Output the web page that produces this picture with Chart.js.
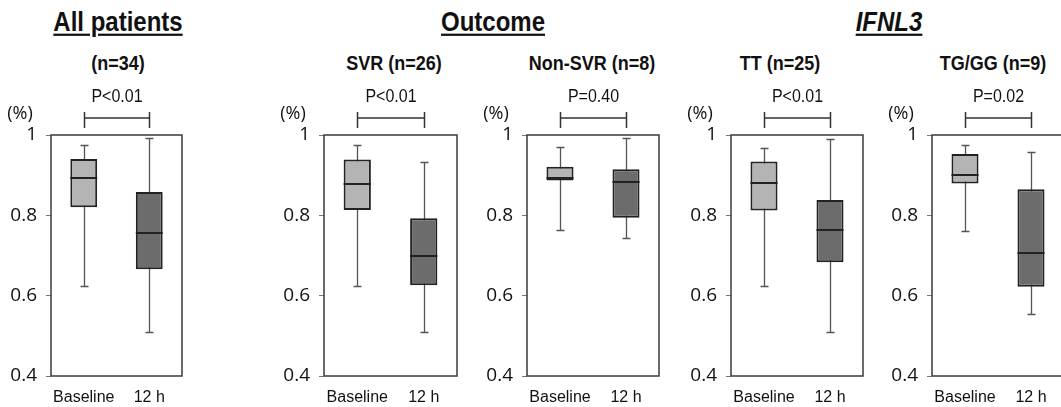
<!DOCTYPE html>
<html>
<head>
<meta charset="utf-8">
<script src="https://cdn.jsdelivr.net/npm/chart.js@4.4.1/dist/chart.umd.min.js"></script>
<style>
    html, body { margin: 0; padding: 0; background: #fff; overflow: hidden; }
    #wrap { position: relative; width: 1061px; height: 407px; overflow: hidden; }
    .pc { position: absolute; top: 0; height: 407px; }
    .txt {
        position: absolute; white-space: nowrap; transform: translateX(-50%) scaleY(1.12);
        transform-origin: 50% 0;
        font-family: "Liberation Sans", Arial, sans-serif;
        font-weight: bold; color: #111; line-height: 1;
    }
    .head { font-size: 24px; text-decoration: underline; text-decoration-thickness: 2px; text-underline-offset: 2px; }
    .sub { font-size: 18px; }
</style>
</head>
<body>
<div id="wrap"></div>
<script>
    const categories = ['Baseline', '12 h'];
    const yTicks = [0.4, 0.6, 0.8, 1];

    const groupTitles = ['All patients', 'Outcome', 'IFNL3'];
    const panelTitles = ['(n=34)', 'SVR (n=26)', 'Non-SVR (n=8)', 'TT (n=25)', 'TG/GG (n=9)'];
    const pValues = ['P<0.01', 'P<0.01', 'P=0.40', 'P<0.01', 'P=0.02'];

    // one [baseline, 12 h] pair per panel
    const whiskerLow = [[0.624, 0.510], [0.624, 0.510], [0.763, 0.744], [0.624, 0.510], [0.762, 0.554]];
    const quart1 = [[0.820, 0.666], [0.813, 0.626], [0.887, 0.794], [0.812, 0.683], [0.879, 0.622]];
    const medians = [[0.892, 0.757], [0.879, 0.699], [0.892, 0.882], [0.880, 0.763], [0.900, 0.705]];
    const quart3 = [[0.940, 0.858], [0.939, 0.793], [0.921, 0.915], [0.934, 0.838], [0.953, 0.865]];
    const whiskerHigh = [[0.975, 0.992], [0.975, 0.934], [0.969, 0.992], [0.968, 0.991], [0.975, 0.958]];

    // layout: plot left/right edges of each panel, title centres
    const plotEdges = [[51, 182], [324, 457], [527, 659], [731, 863], [932, 1064]];
    const groupCentres = [118, 493, 889];
    const subCentres = [118, 394, 592, 780, 993];

    const boxColors = ['#b4b4b4', '#6c6c6c'];
    const sans = '"Liberation Sans", Arial, sans-serif';
    const tickFont = '"Open Sans", "Liberation Sans", sans-serif';

    const wrap = document.getElementById('wrap');

    groupTitles.forEach((t, i) => {
        let d = document.createElement('div');
        d.className = 'txt head';
        d.style.left = groupCentres[i] + 'px';
        d.style.top = '9px';
        d.textContent = t;
        if (i === 2) d.style.fontStyle = 'italic';
        wrap.appendChild(d);
    });

    panelTitles.forEach((t, i) => {
        let d = document.createElement('div');
        d.className = 'txt sub';
        d.style.left = subCentres[i] + 'px';
        d.style.top = '53px';
        d.textContent = t;
        wrap.appendChild(d);
    });

    const boxExtras = {
        id: 'boxExtras',
        beforeDatasetsDraw(chart, args, opts) {
            const {ctx, scales: {x, y}} = chart;
            ctx.save();
            ctx.strokeStyle = '#555';
            ctx.lineWidth = 1.3;
            opts.low.forEach((lo, i) => {
                let px = Math.round(x.getPixelForValue(i)) + 0.5;
                let yLo = Math.round(y.getPixelForValue(lo)) + 0.5;
                let yHi = Math.round(y.getPixelForValue(opts.high[i])) + 0.5;
                ctx.beginPath();
                ctx.moveTo(px, yLo);
                ctx.lineTo(px, yHi);
                ctx.moveTo(px - 4, yLo);
                ctx.lineTo(px + 4, yLo);
                ctx.moveTo(px - 4, yHi);
                ctx.lineTo(px + 4, yHi);
                ctx.stroke();
            });
            ctx.restore();
        },
        afterDatasetsDraw(chart, args, opts) {
            // median line across each box
            const {ctx, scales: {y}} = chart;
            let bars = chart.getDatasetMeta(0).data;
            ctx.save();
            ctx.strokeStyle = '#222';
            ctx.lineWidth = 2;
            opts.median.forEach((m, i) => {
                let b = bars[i];
                let ym = Math.round(y.getPixelForValue(m));
                ctx.beginPath();
                ctx.moveTo(b.x - b.width / 2, ym);
                ctx.lineTo(b.x + b.width / 2, ym);
                ctx.stroke();
            });
            ctx.restore();
        },
        afterDraw(chart, args, opts) {
            const {ctx, chartArea: a, scales: {x}} = chart;
            ctx.save();
            ctx.strokeStyle = '#3a3a3a';
            ctx.lineWidth = 1.5;
            ctx.strokeRect(a.left, a.top, a.right - a.left, a.bottom - a.top);

            // significance bracket
            let x0 = Math.round(x.getPixelForValue(0)) + 0.5;
            let x1 = Math.round(x.getPixelForValue(1)) + 0.5;
            let yb = a.top - 17;
            ctx.strokeStyle = '#333';
            ctx.lineWidth = 1.5;
            ctx.beginPath();
            ctx.moveTo(x0, yb);
            ctx.lineTo(x1, yb);
            ctx.moveTo(x0, a.top - 23);
            ctx.lineTo(x0, a.top - 7);
            ctx.moveTo(x1, a.top - 23);
            ctx.lineTo(x1, a.top - 7);
            ctx.stroke();

            ctx.fillStyle = '#111';
            ctx.textAlign = 'center';
            ctx.textBaseline = 'middle';
            ctx.save();
            ctx.translate((x0 + x1) / 2, a.top - 38);
            ctx.scale(1, 1.15);
            ctx.font = '16px ' + sans;
            ctx.fillText(opts.pText, 0, 0);
            ctx.restore();

            ctx.font = '18px ' + tickFont;
            ctx.fillText('(%)', a.left - 31, a.top - 21);
            ctx.restore();
        }
    };

    plotEdges.forEach((edge, p) => {
        let yAxisW = 52;
        let w = edge[1] - edge[0] + yAxisW + 2;
        let holder = document.createElement('div');
        holder.className = 'pc';
        holder.style.left = (edge[0] - yAxisW) + 'px';
        holder.style.width = w + 'px';
        let canvas = document.createElement('canvas');
        canvas.width = w;
        canvas.height = 407;
        holder.appendChild(canvas);
        wrap.appendChild(holder);

        new Chart(canvas, {
            type: 'bar',
            data: {
                labels: categories,
                datasets: [{
                    data: quart1[p].map((v, i) => [v, quart3[p][i]]),
                    backgroundColor: boxColors,
                    borderColor: '#222',
                    borderWidth: 2,
                    borderSkipped: false,
                    categoryPercentage: 1,
                    barPercentage: 0.41
                }]
            },
            options: {
                responsive: false,
                animation: false,
                layout: {padding: {top: 135, right: 2, left: 0, bottom: 0}},
                plugins: {
                    legend: {display: false},
                    tooltip: {enabled: false},
                    boxExtras: {
                        low: whiskerLow[p], high: whiskerHigh[p],
                        median: medians[p], pText: pValues[p]
                    }
                },
                scales: {
                    x: {
                        grid: {display: false, drawTicks: false},
                        border: {display: false},
                        ticks: {
                            color: '#111', font: {family: sans, size: 16}, padding: 12,
                            maxRotation: 0, minRotation: 0, autoSkip: false
                        },
                        afterFit(s) { s.height = 31; }
                    },
                    y: {
                        min: 0.4,
                        max: 1,
                        afterBuildTicks(s) { s.ticks = yTicks.map(v => ({value: v})); },
                        grid: {drawOnChartArea: false, tickLength: 5, color: '#777'},
                        border: {display: false},
                        ticks: {
                            color: '#111', font: {family: tickFont, size: 19}, padding: 9,
                            callback: v => String(v)
                        },
                        afterFit(s) { s.width = yAxisW; }
                    }
                }
            },
            plugins: [boxExtras]
        });
    });
</script>
</body>
</html>
